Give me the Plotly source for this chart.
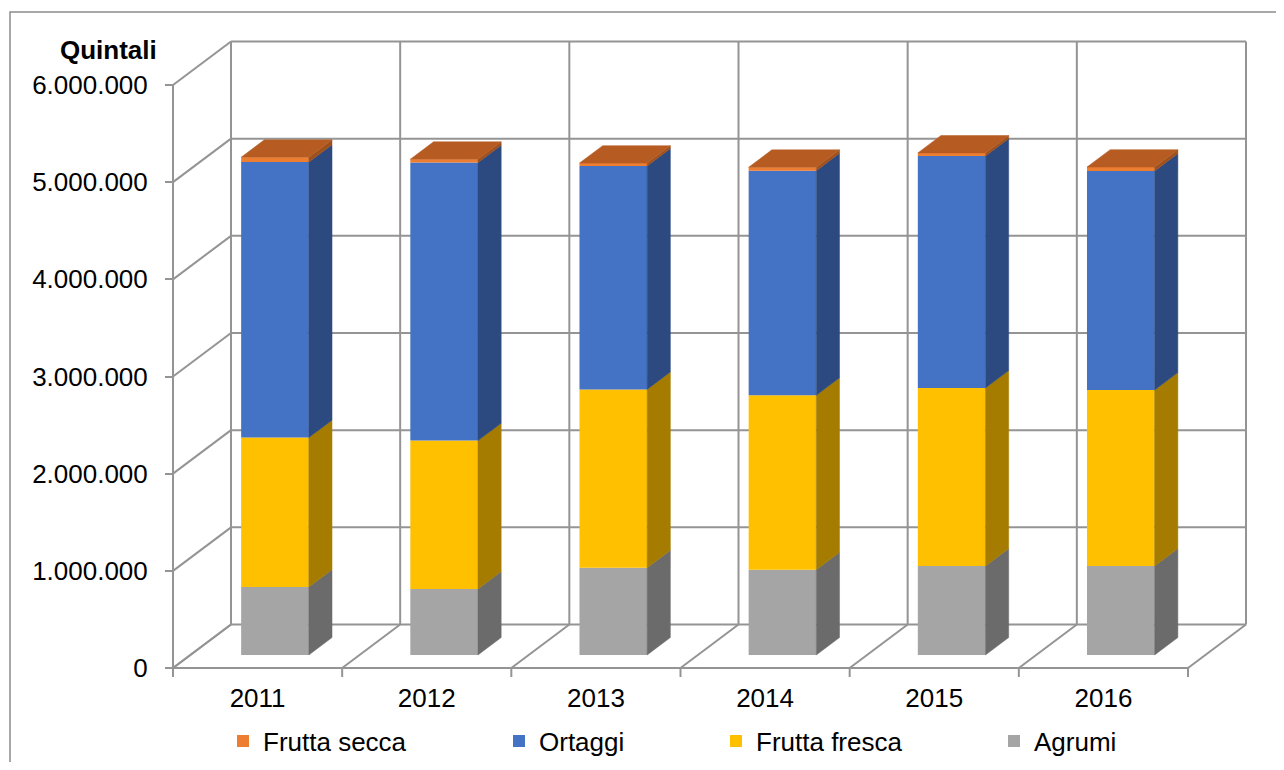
import plotly.graph_objects as go

# ---------------- data (quintali) ----------------
years = ["2011", "2012", "2013", "2014", "2015", "2016"]
agrumi = [700000, 680000, 898000, 878000, 916000, 916000]
frutta_fresca = [1537000, 1526000, 1835000, 1795000, 1832000, 1811000]
ortaggi = [2835000, 2861000, 2299000, 2311000, 2387000, 2254000]
frutta_secca = [50000, 35000, 30000, 35000, 32000, 40000]
y_ticks = [0, 1000000, 2000000, 3000000, 4000000, 5000000, 6000000]
y_title = "Quintali"

# series bottom -> top: name, values, front colour, side colour, legend id
series = [
    ("Agrumi", agrumi, "#A5A5A5", "#6B6B6B", "legend4"),
    ("Frutta fresca", frutta_fresca, "#FFC000", "#A67C00", "legend3"),
    ("Ortaggi", ortaggi, "#4472C4", "#2C4A80", "legend2"),
    ("Frutta secca", frutta_secca, "#ED7D31", "#A0501C", "legend"),
]
TOP_COLOR = "#B65C22"

# ---------------- geometry / layout ----------------
OFF = 8                                   # page body margin
W, H = 1284 - OFF, 770 - 2 * OFF
L, R, T, B = 160 - OFF, 1260 - OFF, 30 - OFF, 680 - OFF   # plot area (figure px)
X0PX, Y0PX = 173 - OFF, 668 - OFF         # front plane origin
UX = (1188 - 173) / 6                     # px per category
UY = (668 - 85) / 6e6                     # px per unit value
x_min = -0.5 - (X0PX - L) / UX
x_max = -0.5 + (R - X0PX) / UX
y_min = -(B - Y0PX) / UY
y_max = (Y0PX - T) / UY
DX = 58 / UX                              # depth offset (category units)
DY = 43.5 / UY                            # depth offset (value units)
F0, F1 = 0.3, 0.7                         # bar depth start / end fraction
BW = 0.4                                  # bar width
GRID = "#949494"
FONT = "Liberation Sans, Arial, sans-serif"
n = len(years)
ymax_axis = y_ticks[-1]

shapes = []


def line(x0, y0, x1, y1, w=2):
    shapes.append(dict(type="line", xref="x", yref="y", x0=x0, y0=y0, x1=x1, y1=y1,
                       line=dict(color=GRID, width=w), layer="below"))


left = -0.5
right = -0.5 + n
for v in y_ticks:
    line(left + DX, v + DY, right + DX, v + DY)          # back wall
    line(left, v, left + DX, v + DY)                     # left wall diagonal
for k in range(n + 1):
    line(left + k + DX, DY, left + k + DX, ymax_axis + DY)  # back wall verticals
    line(left + k, 0, left + k + DX, DY)                 # floor diagonals
    line(left + k, 0, left + k, -9 / UY)                 # category ticks
line(left, 0, right, 0)                                  # front floor edge
line(left, 0, left, ymax_axis)                           # value axis line

# outer chart border (top + left visible)
shapes.append(dict(type="rect", xref="paper", yref="paper",
                   x0=(10 - OFF - L) / (R - L), x1=(1320 - L) / (R - L),
                   y0=(B - 820) / (B - T), y1=1 + (T - (12 - OFF)) / (B - T),
                   line=dict(color="#8C8C8C", width=1.5), layer="below"))

fig = go.Figure()

cum = [0.0] * n
xs_front = [i + F0 * DX for i in range(n)]
for name, vals, fc, sc, leg in series:
    fig.add_trace(go.Bar(
        x=xs_front, y=vals, base=[c + F0 * DY for c in cum], width=BW,
        marker=dict(color=fc, line=dict(width=0)), name=name, legend=leg,
        hoverinfo="name+y"))
    for i in range(n):
        x1 = xs_front[i] + BW / 2
        b = cum[i]
        t = cum[i] + vals[i]
        fig.add_trace(go.Scatter(
            x=[x1, x1 + (F1 - F0) * DX, x1 + (F1 - F0) * DX, x1, x1],
            y=[b + F0 * DY, b + F1 * DY, t + F1 * DY, t + F0 * DY, b + F0 * DY],
            mode="lines", fill="toself", fillcolor=sc,
            line=dict(color=sc, width=0.5), showlegend=False, hoverinfo="skip"))
    cum = [c + v for c, v in zip(cum, vals)]

# top faces
for i in range(n):
    x0 = xs_front[i] - BW / 2
    x1 = xs_front[i] + BW / 2
    t = cum[i]
    ddx = (F1 - F0) * DX
    fig.add_trace(go.Scatter(
        x=[x0, x1, x1 + ddx, x0 + ddx, x0],
        y=[t + F0 * DY, t + F0 * DY, t + F1 * DY, t + F1 * DY, t + F0 * DY],
        mode="lines", fill="toself", fillcolor=TOP_COLOR,
        line=dict(color=TOP_COLOR, width=0.5), showlegend=False, hoverinfo="skip"))

leg_common = dict(orientation="h", font=dict(family=FONT, size=26, color="#000"),
                  bgcolor="rgba(0,0,0,0)", xanchor="left", yanchor="middle",
                  xref="container", yref="container",
                  itemclick=False, itemdoubleclick=False)
leg_y = 1 - (741 - OFF) / H
text_starts = {"legend": 263, "legend2": 539, "legend3": 756, "legend4": 1034}
legs = {k: dict(leg_common, x=(v - OFF - 40) / W, y=leg_y)
        for k, v in text_starts.items()}

fig.update_layout(
    width=W, height=H,
    margin=dict(l=L, r=W - R, t=T, b=H - B, pad=0, autoexpand=False),
    paper_bgcolor="white", plot_bgcolor="rgba(0,0,0,0)",
    barmode="overlay", separators=",.",
    font=dict(family=FONT, size=26, color="#000"),
    shapes=shapes,
    xaxis=dict(range=[x_min, x_max], tickvals=list(range(n)), ticktext=years,
               showgrid=False, zeroline=False, showline=False, ticks="",
               ticklabelstandoff=0, automargin=False,
               tickfont=dict(family=FONT, size=26, color="#000"), fixedrange=True),
    yaxis=dict(range=[y_min, y_max], tickvals=y_ticks, tickformat=",.0f",
               anchor="free", position=(X0PX - L) / (R - L),
               showgrid=False, zeroline=False, showline=False,
               ticks="outside", ticklen=8, tickwidth=2, tickcolor=GRID,
               ticklabelstandoff=12, automargin=False,
               tickfont=dict(family=FONT, size=26, color="#000"), fixedrange=True),
    annotations=[dict(text="<b>" + y_title + "</b>", xref="x", yref="y",
                      x=-0.5, y=ymax_axis + 35 / UY, xanchor="right", yanchor="middle",
                      xshift=-14, showarrow=False,
                      font=dict(family=FONT, size=26, color="#000"))],
    **legs,
)

fig.write_html("out.html")
